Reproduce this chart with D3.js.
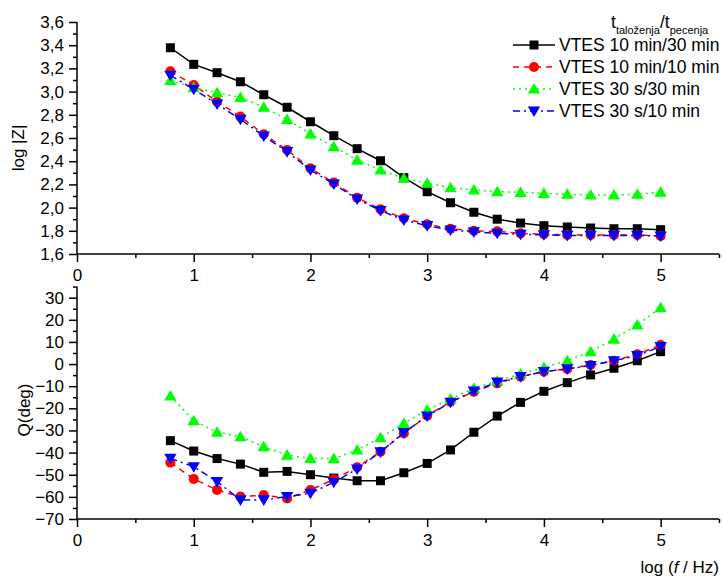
<!DOCTYPE html>
<html>
<head>
<meta charset="utf-8">
<script src="https://cdn.jsdelivr.net/npm/d3@7"></script>
<style>
  body { margin: 0; background: white; }
  svg { font-family: "Liberation Sans", Arial, sans-serif; }
  .axis path, .axis line { stroke: black; stroke-width: 1.5; }
  .axis text { font-size: 17px; fill: black; }
</style>
</head>
<body>
<div class="chart"></div>
<script>

// x values (log f / Hz)
var logF = [0.8, 1.0, 1.2, 1.4, 1.6, 1.8, 2.0, 2.2, 2.4, 2.6, 2.8, 3.0, 3.2, 3.4, 3.6, 3.8, 4.0, 4.2, 4.4, 4.6, 4.8, 5.0];

var seriesNames = ["VTES 10 min/30 min", "VTES 10 min/10 min", "VTES 30 s/30 min", "VTES 30 s/10 min"];

// log |Z|
var logZ_10m30m = [3.378, 3.235, 3.163, 3.085, 2.973, 2.865, 2.74, 2.62, 2.508, 2.404, 2.258, 2.137, 2.042, 1.96, 1.90, 1.867, 1.844, 1.833, 1.824, 1.818, 1.818, 1.81];
var logZ_10m10m = [3.175, 3.057, 2.913, 2.784, 2.632, 2.497, 2.339, 2.215, 2.085, 1.985, 1.908, 1.856, 1.818, 1.80, 1.795, 1.778, 1.77, 1.764, 1.764, 1.764, 1.764, 1.755];
var logZ_30s30m = [3.097, 3.035, 2.99, 2.95, 2.865, 2.76, 2.635, 2.525, 2.41, 2.324, 2.253, 2.21, 2.172, 2.152, 2.137, 2.132, 2.123, 2.115, 2.109, 2.109, 2.115, 2.134];
var logZ_30s10m = [3.14, 3.02, 2.893, 2.761, 2.617, 2.482, 2.324, 2.203, 2.074, 1.974, 1.893, 1.844, 1.807, 1.79, 1.778, 1.77, 1.765, 1.76, 1.76, 1.76, 1.76, 1.755];

// phase angle (deg)
var phase_10m30m = [-34.6, -39.3, -42.7, -45.2, -48.9, -48.5, -50, -51.5, -52.7, -52.7, -49.1, -44.9, -38.8, -30.8, -23.5, -17.3, -12.3, -8.4, -4.9, -1.9, 1.5, 5.6];
var phase_10m10m = [-44.5, -51.9, -56.9, -59.9, -59.2, -60.7, -56.9, -52.1, -46.6, -39.6, -31.3, -23.3, -17, -12.5, -8.7, -5.7, -3.4, -2.2, -0.4, 1.5, 4.4, 8.6];
var phase_30s30m = [-14.4, -25.6, -30.8, -32.8, -37.3, -41.1, -42.6, -42.7, -38.8, -33.3, -26.8, -20.7, -15.8, -10.9, -7.6, -4.5, -1.5, 1.5, 5.6, 11.3, 17.7, 25.5];
var phase_30s10m = [-42.6, -46.4, -53.1, -61.4, -61.4, -59.9, -58.4, -53.4, -47.4, -39.7, -31, -23.5, -17.3, -12.2, -8.2, -5.7, -3.4, -2.2, -0.7, 1.5, 3.8, 7.9];

var xTicks = [0, 1, 2, 3, 4, 5];
var xMinor = [0.5, 1.5, 2.5, 3.5, 4.5, 5.5];
var zTicks = [1.6, 1.8, 2.0, 2.2, 2.4, 2.6, 2.8, 3.0, 3.2, 3.4, 3.6];
var zMinor = [1.7, 1.9, 2.1, 2.3, 2.5, 2.7, 2.9, 3.1, 3.3, 3.5];
var qTicks = [-70, -60, -50, -40, -30, -20, -10, 0, 10, 20, 30];
var qMinor = [-65, -55, -45, -35, -25, -15, -5, 5, 15, 25, 35];

// look of each series
var colors = ["#000000", "#ff0000", "#00ff00", "#0000ff"];
var dashes = [null, "6,5", "2,4", "7,4,2,4"];
var shapes = ["square", "circle", "up", "down"];

var width = 723, height = 578;

var svg = d3.select(".chart").append("svg")
    .attr("width", width)
    .attr("height", height);

var x = d3.scaleLinear().domain([0, 5.5]).range([77, 719]);
var yTop = d3.scaleLinear().domain([1.6, 3.6]).range([254, 22]);
var yBot = d3.scaleLinear().domain([-70, 35]).range([519, 286.6]);

function commaFmt(d) { return d3.format(".1f")(d).replace(".", ","); }

function marker(sel, shape, color) {
  var path;
  if (shape == "square") path = d3.symbol().type(d3.symbolSquare).size(81)();
  else if (shape == "circle") path = d3.symbol().type(d3.symbolCircle).size(80)();
  else path = "M0,-6L6.2,4.6L-6.2,4.6Z";
  sel.append("path")
      .attr("d", path)
      .attr("transform", function(d) {
        var t = "translate(" + d[0] + "," + d[1] + ")";
        if (shape == "down") t += " rotate(180)";
        return t;
      })
      .style("fill", color)
      .style("stroke", "none");
}

function drawPanel(yScale, ticks, minor, fmt, seriesList) {
  var g = svg.append("g");

  // x axis
  g.append("g").attr("class", "axis")
      .attr("transform", "translate(0," + yScale.range()[0] + ")")
      .call(d3.axisBottom(x).tickValues(xTicks).tickSize(8).tickPadding(7).tickFormat(d3.format("d")))
      .call(function(a) { a.select(".domain").attr("d", "M" + x(0) + ",0H" + x(5.5)); });
  g.append("g").attr("class", "axis")
      .attr("transform", "translate(0," + yScale.range()[0] + ")")
      .call(d3.axisBottom(x).tickValues(xMinor).tickSize(4).tickFormat(""))
      .select(".domain").remove();

  // y axis
  g.append("g").attr("class", "axis")
      .attr("transform", "translate(" + x(0) + ",0)")
      .call(d3.axisLeft(yScale).tickValues(ticks).tickSize(8).tickPadding(5).tickFormat(fmt))
      .call(function(a) { a.select(".domain").attr("d", "M0," + yScale.range()[0] + "V" + yScale.range()[1]); });
  g.append("g").attr("class", "axis")
      .attr("transform", "translate(" + x(0) + ",0)")
      .call(d3.axisLeft(yScale).tickValues(minor).tickSize(4).tickFormat(""))
      .select(".domain").remove();

  var line = d3.line()
      .x(function(d) { return x(d[0]); })
      .y(function(d) { return yScale(d[1]); });

  seriesList.forEach(function(vals, i) {
    var pts = logF.map(function(f, j) { return [f, vals[j]]; });
    g.append("path")
        .datum(pts)
        .attr("d", line)
        .style("fill", "none")
        .style("stroke", colors[i])
        .style("stroke-width", 1.5)
        .style("stroke-dasharray", dashes[i]);
    var m = g.selectAll(null)
        .data(pts.map(function(p) { return [x(p[0]), yScale(p[1])]; }))
        .enter();
    marker(m, shapes[i], colors[i]);
  });
}

drawPanel(yTop, zTicks, zMinor, commaFmt, [logZ_10m30m, logZ_10m10m, logZ_30s30m, logZ_30s10m]);
drawPanel(yBot, qTicks, qMinor, d3.format("d"), [phase_10m30m, phase_10m10m, phase_30s30m, phase_30s10m]);

// axis titles
svg.append("text")
    .attr("transform", "translate(24,148) rotate(-90)")
    .attr("text-anchor", "middle")
    .style("font-size", "17px")
    .text("log |Z|");

svg.append("text")
    .attr("transform", "translate(30,410) rotate(-90)")
    .attr("text-anchor", "middle")
    .style("font-size", "17px")
    .text("Q(deg)");

var xt = svg.append("text")
    .attr("x", 719)
    .attr("y", 573)
    .attr("text-anchor", "end")
    .style("font-size", "17px");
xt.append("tspan").text("log (");
xt.append("tspan").style("font-style", "italic").text("f");
xt.append("tspan").text(" / Hz)");

// legend
var lt = svg.append("text")
    .attr("x", 611)
    .attr("y", 28)
    .style("font-size", "17.5px");
lt.append("tspan").text("t");
lt.append("tspan").attr("dy", 6).style("font-size", "11px").text("taloženja");
lt.append("tspan").attr("dy", -6).text("/t");
lt.append("tspan").attr("dy", 6).style("font-size", "11px").text("pecenja");

var legend = svg.append("g");
seriesNames.forEach(function(name, i) {
  var yy = 45 + i * 22;
  legend.append("line")
      .attr("x1", 513).attr("x2", 555)
      .attr("y1", yy).attr("y2", yy)
      .style("stroke", colors[i])
      .style("stroke-width", 1.5)
      .style("stroke-dasharray", dashes[i]);
  marker(legend.selectAll(null).data([[534, yy]]).enter(), shapes[i], colors[i]);
  legend.append("text")
      .attr("x", 559)
      .attr("y", yy + 6)
      .style("font-size", "17.5px")
      .text(name);
});

</script>
</body>
</html>
